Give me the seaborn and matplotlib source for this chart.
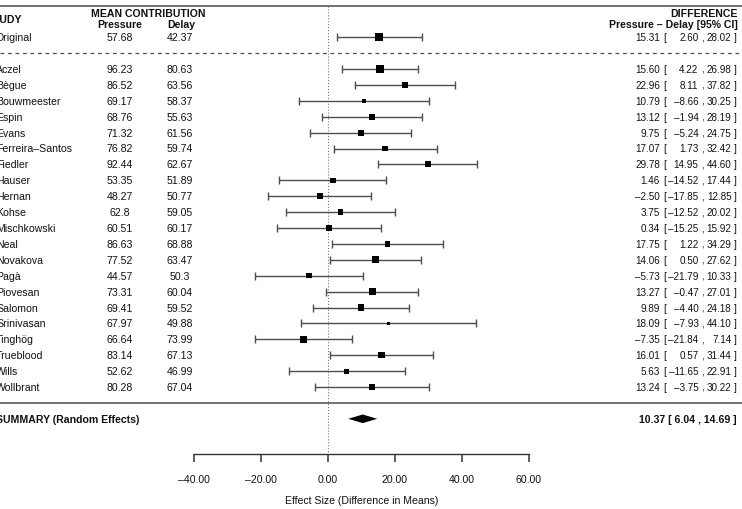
import numpy as np
import pandas as pd
import matplotlib
matplotlib.use("Agg")
import matplotlib.pyplot as plt
import matplotlib.transforms as mtransforms
import seaborn as sns

# ---------------- data ----------------
studies = ["Aczel", "Bègue", "Bouwmeester", "Espin", "Evans", "Ferreira–Santos",
           "Fiedler", "Hauser", "Hernan", "Kohse", "Mischkowski", "Neal",
           "Novakova", "Pagà", "Piovesan", "Salomon", "Srinivasan", "Tinghög",
           "Trueblood", "Wills", "Wollbrant"]
pressure = ["96.23", "86.52", "69.17", "68.76", "71.32", "76.82", "92.44", "53.35",
            "48.27", "62.8", "60.51", "86.63", "77.52", "44.57", "73.31", "69.41",
            "67.97", "66.64", "83.14", "52.62", "80.28"]
delay = ["80.63", "63.56", "58.37", "55.63", "61.56", "59.74", "62.67", "51.89",
         "50.77", "59.05", "60.17", "68.88", "63.47", "50.3", "60.04", "59.52",
         "49.88", "73.99", "67.13", "46.99", "67.04"]
diff = [15.60, 22.96, 10.79, 13.12, 9.75, 17.07, 29.78, 1.46, -2.50, 3.75, 0.34,
        17.75, 14.06, -5.73, 13.27, 9.89, 18.09, -7.35, 16.01, 5.63, 13.24]
lower = [4.22, 8.11, -8.66, -1.94, -5.24, 1.73, 14.95, -14.52, -17.85, -12.52, -15.25,
         1.22, 0.50, -21.79, -0.47, -4.40, -7.93, -21.84, 0.57, -11.65, -3.75]
upper = [26.98, 37.82, 30.25, 28.19, 24.75, 32.42, 44.60, 17.44, 12.85, 20.02, 15.92,
         34.29, 27.62, 10.33, 27.01, 24.18, 44.10, 7.14, 31.44, 22.91, 30.22]
weight = [6.2, 5.0, 3.5, 4.7, 4.7, 4.5, 4.5, 4.3, 4.5, 4.3, 4.7, 4.0, 5.3, 4.3,
          5.3, 5.0, 2.3, 5.3, 5.0, 4.0, 4.7]

orig_name = "Original"
orig_pressure = "57.68"
orig_delay = "42.37"
orig_diff, orig_lower, orig_upper, orig_weight = 15.31, 2.60, 28.02, 6.0

summary_label = "SUMMARY (Random Effects)"
sum_diff, sum_lower, sum_upper = 10.37, 6.04, 14.69

xticks = [-40, -20, 0, 20, 40, 60]

# ---------------- layout helpers ----------------
W, H = 742, 510
PX0, PXS = 328.0, 3.35          # pixel of x=0 and pixels per unit
ROW0, ROWH = 70.0, 15.9         # pixel of first study row and row height
AX_BOTTOM_PX = 455.0

def row_of(px):
    return (px - ROW0) / ROWH

sns.set_style("white")
plt.rcParams["font.family"] = ["Liberation Sans", "DejaVu Sans"]
FS = 7.6
FSR = 7.1
TXT = "#111111"
LINE = "#4d4d4d"

fig = plt.figure(figsize=(W / 100, H / 100), dpi=100)
ax = fig.add_axes([0, (H - AX_BOTTOM_PX) / H, 1, AX_BOTTOM_PX / H])
ax.set_xlim(-PX0 / PXS, (W - PX0) / PXS)
ax.set_ylim(row_of(AX_BOTTOM_PX), row_of(0))

# dataframe of points
rows = np.arange(len(studies), dtype=float)
df = pd.DataFrame({
    "diff": [orig_diff] + diff,
    "row": [-2.0] + list(rows),
    "lower": [orig_lower] + lower,
    "upper": [orig_upper] + upper,
    "w": [orig_weight] + weight,
})

# CI lines
ax.errorbar(df["diff"], df["row"],
            xerr=[df["diff"] - df["lower"], df["upper"] - df["diff"]],
            fmt="none", ecolor=LINE, elinewidth=1.0, capsize=3.0, capthick=1.0,
            zorder=2)
# square markers
sns.scatterplot(data=df, x="diff", y="row", marker="s",
                s=(df["w"] * 1.3 * 0.72) ** 2, color="black", edgecolor="black",
                linewidth=0, legend=False, ax=ax, zorder=3)

# summary diamond
yr = 22.0
ax.fill([sum_lower, sum_diff, sum_upper, sum_diff], [yr, yr - 0.27, yr, yr + 0.27],
        color="black", zorder=3, lw=0)

# reference lines
top_r = row_of(7)
ax.axhline(top_r, color=LINE, lw=1.1)
ax.axhline(-1.0, color=LINE, lw=0.9, ls=(0, (3, 3)))
ax.axhline(21.0, color=LINE, lw=1.1)
ax.vlines(0, top_r, row_of(AX_BOTTOM_PX), color="#777777", lw=0.8, ls=":", zorder=1)

# axis styling
ax.set_ylabel("")
for s in ["left", "right", "top"]:
    ax.spines[s].set_visible(False)
ax.spines["bottom"].set_bounds(xticks[0], xticks[-1])
ax.spines["bottom"].set_color("#333333")
ax.spines["bottom"].set_linewidth(1.0)
ax.set_yticks([])
ax.set_xticks(xticks)
ax.set_xticklabels([f"{t:.2f}".replace("-", "–") for t in xticks], fontsize=FS, color=TXT)
ax.tick_params(axis="x", bottom=True, direction="out", length=5.8, width=1.1,
               color="#333333", pad=8.5)
ax.set_xlabel("Effect Size (Difference in Means)", fontsize=FS, color=TXT, labelpad=8)
ax.xaxis.label.set_x(((PX0 + PXS * (xticks[0] + xticks[-1]) / 2)) / W)

# text
tr = mtransforms.blended_transform_factory(fig.transFigure, ax.transData)
def fx(px):
    return px / W

def fmt(v):
    return f"{v:.2f}".replace("-", "–")

ax.text(fx(-13), row_of(20), "STUDY", transform=tr, fontsize=FS, weight="bold",
        va="center", ha="left", color=TXT)
ax.text(fx(148), row_of(14), "MEAN CONTRIBUTION", transform=tr, fontsize=FS,
        weight="bold", va="center", ha="center", color=TXT)
ax.text(fx(120), row_of(25), "Pressure", transform=tr, fontsize=FS, weight="bold",
        va="center", ha="center", color=TXT)
ax.text(fx(181), row_of(25), "Delay", transform=tr, fontsize=FS, weight="bold",
        va="center", ha="center", color=TXT)
ax.text(fx(738), row_of(14), "DIFFERENCE", transform=tr, fontsize=FS, weight="bold",
        va="center", ha="right", color=TXT)
ax.text(fx(738), row_of(25), "Pressure – Delay [95% CI]", transform=tr, fontsize=FS,
        weight="bold", va="center", ha="right", color=TXT)

def row_text(r, name, p, d, est, lo, hi):
    kw = dict(transform=tr, fontsize=FS, va="center", color=TXT)
    kr = dict(transform=tr, fontsize=FSR, va="center", color=TXT)
    ax.text(fx(-4), r, name, ha="left", **kw)
    ax.text(fx(120), r, p, ha="center", **kw)
    ax.text(fx(180), r, d, ha="center", **kw)
    ax.text(fx(660), r, fmt(est), ha="right", **kr)
    ax.text(fx(662.8), r, "[", ha="left", **kr)
    ax.text(fx(698.5), r, fmt(lo), ha="right", **kr)
    ax.text(fx(701.3), r, ",", ha="left", **kr)
    ax.text(fx(731.5), r, fmt(hi), ha="right", **kr)
    ax.text(fx(737), r, "]", ha="right", **kr)

row_text(-2.0, orig_name, orig_pressure, orig_delay, orig_diff, orig_lower, orig_upper)
for i, name in enumerate(studies):
    row_text(rows[i], name, pressure[i], delay[i], diff[i], lower[i], upper[i])

ax.text(fx(-4), 22.0, summary_label, transform=tr, fontsize=FS, weight="bold",
        va="center", ha="left", color=TXT)
ax.text(fx(737), 22.0, f"{fmt(sum_diff)} [ {fmt(sum_lower)} , {fmt(sum_upper)} ]",
        transform=tr, fontsize=FS, weight="bold", va="center", ha="right", color=TXT)

fig.savefig("out.png", dpi=100)
